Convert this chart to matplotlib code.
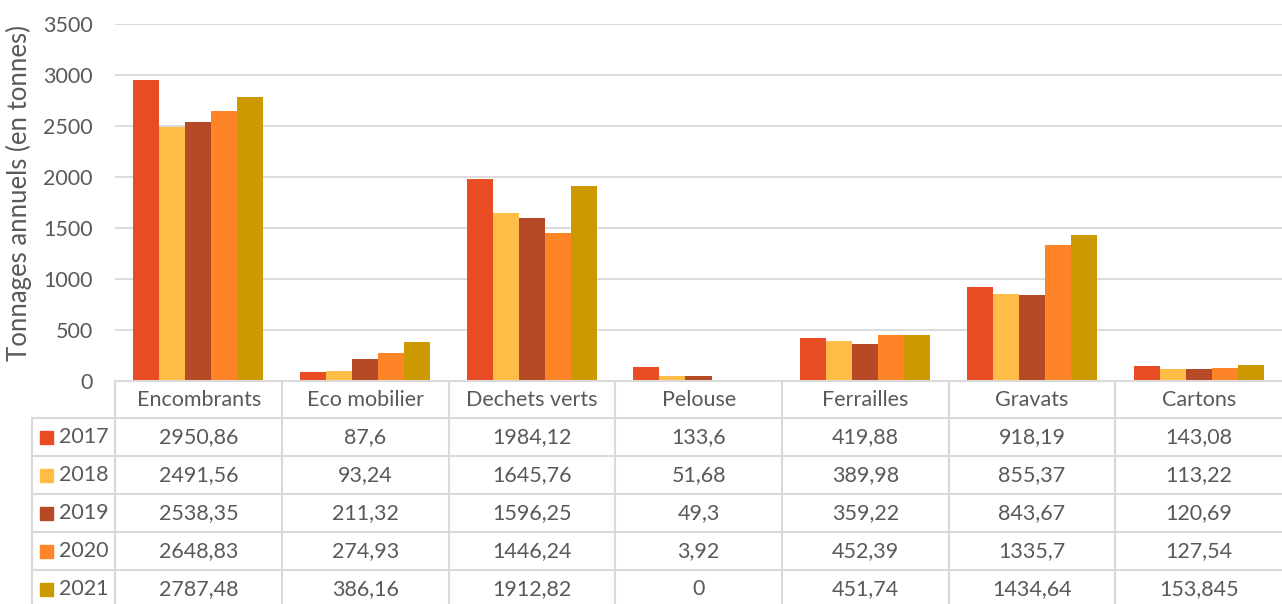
import numpy as np
import matplotlib
matplotlib.use("Agg")
import matplotlib.pyplot as plt
from matplotlib.patches import Rectangle

plt.rcParams['font.family'] = ['Lato', 'DejaVu Sans']

categories = ['Encombrants', 'Eco mobilier', 'Dechets verts', 'Pelouse',
              'Ferrailles', 'Gravats', 'Cartons']
years = ['2017', '2018', '2019', '2020', '2021']
values = {
    '2017': [2950.86, 87.6, 1984.12, 133.6, 419.88, 918.19, 143.08],
    '2018': [2491.56, 93.24, 1645.76, 51.68, 389.98, 855.37, 113.22],
    '2019': [2538.35, 211.32, 1596.25, 49.3, 359.22, 843.67, 120.69],
    '2020': [2648.83, 274.93, 1446.24, 3.92, 452.39, 1335.7, 127.54],
    '2021': [2787.48, 386.16, 1912.82, 0, 451.74, 1434.64, 153.845],
}
# texts as printed in the table (French decimal comma)
labels = {
    '2017': ['2950,86', '87,6', '1984,12', '133,6', '419,88', '918,19', '143,08'],
    '2018': ['2491,56', '93,24', '1645,76', '51,68', '389,98', '855,37', '113,22'],
    '2019': ['2538,35', '211,32', '1596,25', '49,3', '359,22', '843,67', '120,69'],
    '2020': ['2648,83', '274,93', '1446,24', '3,92', '452,39', '1335,7', '127,54'],
    '2021': ['2787,48', '386,16', '1912,82', '0', '451,74', '1434,64', '153,845'],
}
colors = ['#E84C22', '#FFBD47', '#B64926', '#FF8427', '#CC9900']

W, H = 1282, 604
fig = plt.figure(figsize=(W / 100, H / 100), dpi=100)

grid_c = '#d9d9d9'
txt_c = '#595959'
fs = 15.5

# main bar axes
ax = fig.add_axes([115 / W, (H - 381) / H, (W - 115) / W, (381 - 24) / H])
n = len(categories)
x = np.arange(n)
bw = 0.156
for i, y in enumerate(years):
    ax.bar(x + (i - 2) * bw, values[y], width=bw, color=colors[i], zorder=3)
ax.set_xlim(-0.5, n - 0.5)
ax.set_ylim(0, 3500)
ax.set_yticks(range(0, 3501, 500))
ax.yaxis.grid(True, color=grid_c, linewidth=1.3, zorder=0)
ax.set_xticks([])
for s in ax.spines.values():
    s.set_visible(False)
ax.tick_params(axis='y', length=0, pad=16, labelsize=fs, labelcolor=txt_c)
fig.text(19 / W, 1 - 193 / H, 'Tonnages annuels (en tonnes)', rotation=90,
         ha='center', va='center', fontsize=18.5, color=txt_c)

# data table below
hdr, rh = 37, 38
tot = hdr + rh * len(years)
tax = fig.add_axes([32 / W, (H - 381 - tot) / H, (W - 32) / W, tot / H])
tax.set_xlim(-1.0, n - 0.5)
tax.set_ylim(tot, 0)
tax.axis('off')
lw = 1.5
# horizontal lines
tax.plot([-0.5, n - 0.5], [0, 0], color=grid_c, lw=lw, clip_on=False)
for r in range(len(years) + 1):
    yy = hdr + r * rh
    tax.plot([-1.0, n - 0.5], [yy, yy], color=grid_c, lw=lw, clip_on=False)
# vertical lines
tax.plot([-1.0, -1.0], [hdr, tot], color=grid_c, lw=lw, clip_on=False)
for c in range(n):
    xx = c - 0.5
    tax.plot([xx, xx], [0, tot], color=grid_c, lw=lw, clip_on=False)

for c, cat in enumerate(categories):
    tax.text(c, hdr / 2, cat, ha='center', va='center', fontsize=fs, color=txt_c)
for r, y in enumerate(years):
    yc = hdr + r * rh + rh / 2
    tax.add_patch(Rectangle((-0.952, yc - 6.5), 13 / 166.7, 13, color=colors[r],
                            clip_on=False))
    tax.text(-0.84, yc, y, ha='left', va='center', fontsize=fs, color=txt_c)
    for c in range(n):
        tax.text(c, yc, labels[y][c], ha='center', va='center', fontsize=fs,
                 color=txt_c)

fig.savefig('out.png', dpi=100)
